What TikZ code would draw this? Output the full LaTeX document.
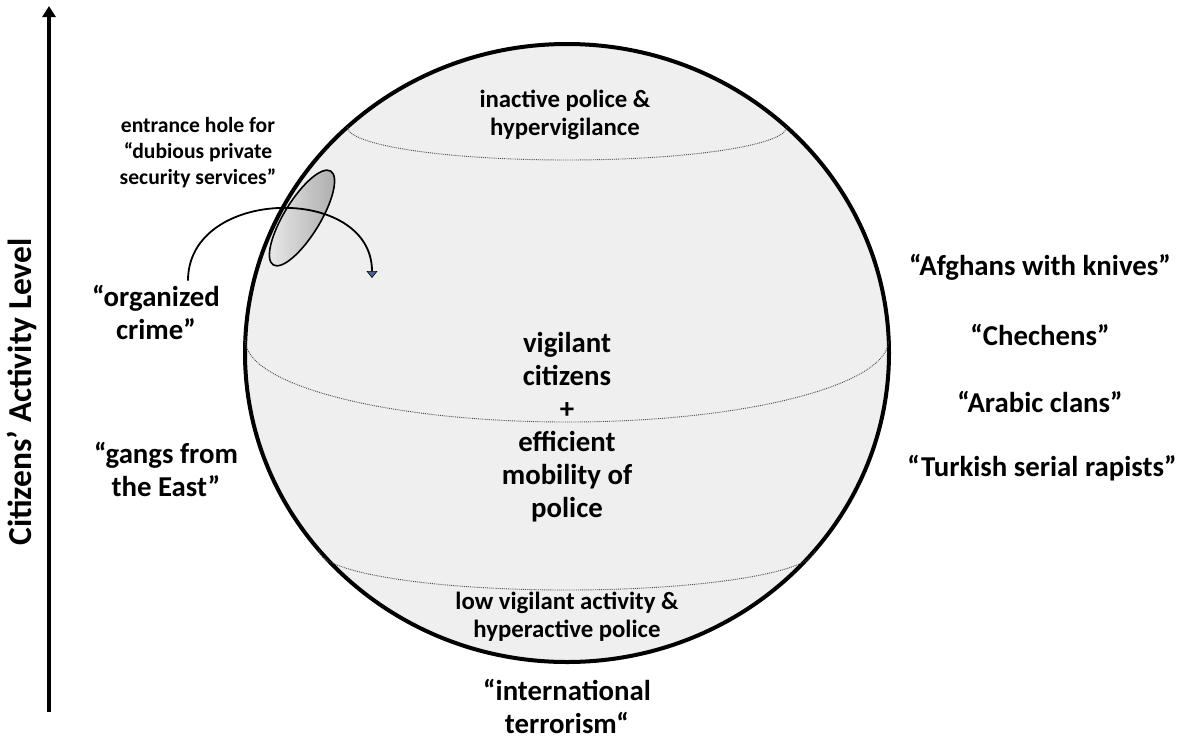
\documentclass[tikz,border=0pt]{standalone}
\usepackage{fontspec}
\setmainfont{Carlito}
\usetikzlibrary{arrows.meta,shapes.geometric}
\definecolor{spheregray}{RGB}{239,239,239}
\definecolor{tipblue}{RGB}{78,100,140}
\tikzset{
  lbl/.style={
    font=\bfseries\fontsize{28.8}{33}\selectfont,
    align=center,
    inner sep=0pt
  },
  lbl-zone/.style={lbl, font=\bfseries\fontsize{24.8}{28}\selectfont},
  lbl-note/.style={lbl, font=\bfseries\fontsize{21.6}{26}\selectfont},
  lbl-axis/.style={lbl, font=\bfseries\fontsize{33.5}{38}\selectfont, rotate=90},
  sphere/.style={line width=4pt, draw=black, fill=spheregray},
  lat-line/.style={densely dotted, line width=0.9pt, draw=black!70},
  hole/.style={ellipse, draw=black, line width=1.6pt, minimum width=110pt, minimum height=36pt,
    left color=black!8, right color=black!42, fill opacity=0.75},
  axis-arrow/.style={line width=3.5pt, -{Triangle[length=11pt,width=13pt]}},
  bend-arrow/.style={line width=1.8pt, -{Triangle[length=7pt,width=11pt,line width=0.6pt,fill=tipblue]}}
}

\begin{document}
\begin{tikzpicture}[x=1pt, y=-1pt]
  \useasboundingbox (0,0) rectangle (1179,740);

  % axis
  \coordinate (axis-foot) at (49,712);
  \coordinate (axis-top) at (49,6);
  \draw[axis-arrow] (axis-foot) -- (axis-top);
  \node[lbl-axis] (axis-label) at (22,392) {Citizens’ Activity Level};

  % sphere and its zones
  \draw[sphere] (567,353) ellipse [x radius=322pt, y radius=309pt];
  \draw[lat-line] (347.4,127) arc [start angle=180, end angle=360, x radius=219.6pt, y radius=33pt];
  \draw[lat-line] (245.3,340) arc [start angle=180, end angle=360, x radius=321.7pt, y radius=82pt];
  \draw[lat-line] (319,550) arc [start angle=180, end angle=360, x radius=248pt, y radius=40pt];

  \node[lbl-zone] (zone-top) at (565,115) {inactive police \&\\hypervigilance};
  \node[lbl] (zone-mid) at (567,427) {vigilant\\citizens\\+\\efficient\\mobility of\\police};
  \node[lbl-zone] (zone-low) at (567,617) {low vigilant activity \&\\hyperactive police};

  % entrance hole
  \node[hole, rotate=58.5] (hole) at (302,218) {};
  \node[lbl-note] (hole-note) at (198,153) {entrance hole for\\“dubious private\\security services”};

  % threats
  \node[lbl] (crime) at (156,312) {“organized\\crime”};
  \node[lbl] (gangs) at (166,469) {“gangs from\\the East”};
  \node[lbl] (afghans) at (1040,267) {“Afghans with knives”};
  \node[lbl] (chechens) at (1040,335) {“Chechens”};
  \node[lbl] (clans) at (1040,402) {“Arabic clans”};
  \node[lbl] (rapists) at (1042,468) {“Turkish serial rapists”};
  \node[lbl] (terror) at (567,706) {“international\\terrorism“};

  \coordinate (hole-exit) at (372,278);
  \draw[bend-arrow] ([xshift=32pt,yshift=4pt]crime.north)
    .. controls +(0,-94) and +(0,-94) .. (hole-exit);
\end{tikzpicture}
\end{document}
